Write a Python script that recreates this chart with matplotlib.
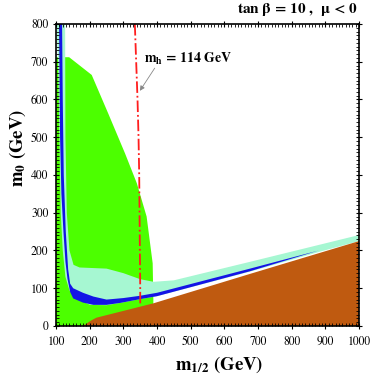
import numpy as np
import matplotlib
matplotlib.use("Agg")
import matplotlib.pyplot as plt
from matplotlib.ticker import MultipleLocator

plt.rcParams['mathtext.fontset'] = 'stix'
plt.rcParams['font.family'] = 'STIXGeneral'

# region boundaries (m_1/2, m_0) in GeV
green_m12 = [100, 100, 139, 206, 255, 305, 340, 369, 387, 389, 389]
green_m0 = [0, 712, 712, 665, 563, 457, 378, 290, 166, 69, 0]

brown_m12 = [180, 205, 220, 389, 676, 1000, 1000]
brown_m0 = [0, 15, 22, 60, 138, 225, 0]

turq_m12 = [101, 127, 128, 132, 140, 152, 170, 250, 300, 350, 390, 450, 676, 1000,
            1000, 880, 676, 400, 349, 290, 250, 201, 161, 140, 128, 120, 114, 110, 106, 101]
turq_m0 = [800, 800, 500, 300, 200, 162, 155, 152, 140, 124, 117, 121, 170, 241,
           225, 196, 144, 79, 71, 61, 55, 56, 72, 94, 130, 200, 300, 500, 700, 800]

blue_m12 = [109, 112, 116, 122, 128, 134, 142, 151, 180, 211, 250, 290, 349, 400, 676, 880,
            850, 676, 400, 349, 300, 250, 211, 180, 151, 142, 136, 129, 123, 120, 118]
blue_m0 = [800, 500, 350, 250, 170, 125, 90, 73, 62, 56, 56, 61, 71, 79, 145, 200,
           193, 152, 88, 80, 74, 70, 78, 88, 100, 112, 150, 250, 400, 600, 800]

mh_m12 = [334, 338, 342, 345, 347, 348, 349, 350, 350]
mh_m0 = [800, 700, 600, 500, 400, 300, 200, 100, 60]

fig = plt.figure(figsize=(3.71, 3.82), dpi=100)
ax = fig.add_axes([0.151, 0.1466, 0.817, 0.7906])

ax.fill(green_m12, green_m0, color='#4cff00', lw=0)
ax.fill(turq_m12, turq_m0, color='#a6f7d2', lw=0)
ax.fill(blue_m12, blue_m0, color='#1414e6', lw=0)
ax.fill(brown_m12, brown_m0, color='#bf5a10', lw=0)
ax.plot(mh_m12, mh_m0, color='#ff1e1e', lw=1.3, ls='-.')

ax.annotate('', xy=(349, 623), xytext=(393, 683),
            arrowprops=dict(arrowstyle='-|>', color='#888888', lw=0.6,
                            mutation_scale=7, shrinkA=0, shrinkB=0))
ax.text(361, 697, r'$\mathbf{m_h}$ = 114 GeV', fontsize=10, fontweight='bold', va='baseline')

ax.set_xlim(100, 1000)
ax.set_ylim(0, 800)
ax.xaxis.set_major_locator(MultipleLocator(100))
ax.xaxis.set_minor_locator(MultipleLocator(10))
ax.yaxis.set_major_locator(MultipleLocator(100))
ax.yaxis.set_minor_locator(MultipleLocator(10))
ax.tick_params(which='both', top=True, right=True, labelsize=8.5)
ax.tick_params(which='major', direction='inout', length=5, width=0.8)
ax.tick_params(axis='x', which='major', pad=5)
ax.tick_params(axis='y', which='major', pad=3)
ax.tick_params(which='minor', direction='in', length=2.5, width=0.6)
for s in ax.spines.values():
    s.set_linewidth(1.2)

ax.set_xlabel(r'$\mathbf{m_{1/2}}$ (GeV)', fontsize=13.5, fontweight='bold')
ax.xaxis.set_label_coords(0.538, -0.094)
ax.xaxis.label.set_va('top')
ax.set_ylabel(r'$\mathbf{m_0}$ (GeV)', fontsize=13.5, fontweight='bold')
ax.yaxis.set_label_coords(-0.127, 0.59)
ax.yaxis.label.set_va('center')
fig.text(0.965, 0.952, r'tan $\mathbf{\beta}$ = 10 ,  $\mathbf{\mu}$ < 0', fontsize=11,
         fontweight='bold', ha='right', va='bottom')

fig.savefig('out.png', dpi=100)
